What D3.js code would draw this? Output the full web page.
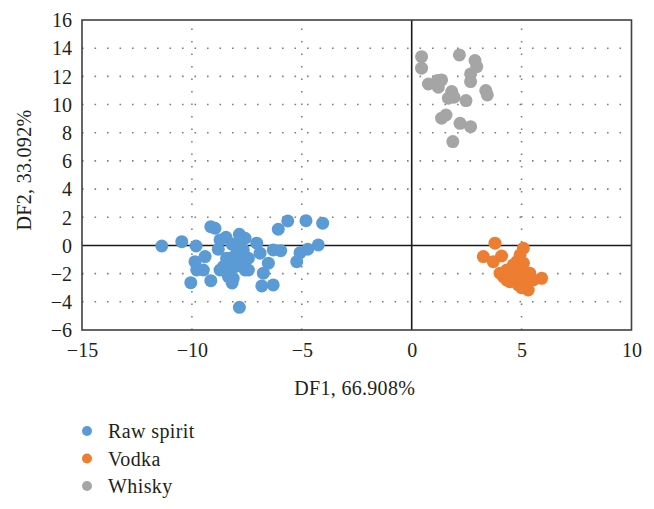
<!DOCTYPE html>
<html>
<head>
<meta charset="utf-8">
<script src="https://cdn.jsdelivr.net/npm/d3@7"></script>
<style>
  html, body { margin: 0; padding: 0; background: #fff; }
  svg { display: block; }
  text { font-family: "Liberation Serif", "Times New Roman", serif; fill: #231f20; }
</style>
</head>
<body>
<svg id="chart" width="654" height="509"></svg>
<script>
// ---- data ----
const seriesNames = ["Raw spirit", "Vodka", "Whisky"];
const seriesColors = ["#5B9BD5", "#ED7D31", "#A5A5A5"];

const rawSpiritX = [-11.37, -10.46, -9.81, -9.14, -8.95, -8.45, -8.80, -7.84, -7.58, -9.86, -9.40, -9.78, -9.48, -10.05, -9.14, -8.49, -8.34, -8.12, -8.27, -7.96, -7.66, -7.43, -7.43, -7.05, -6.90, -6.52, -6.75, -6.82, -6.30, -6.30, -5.96, -6.07, -5.64, -4.81, -4.05, -4.25, -4.73, -5.08, -5.23, -7.84, -8.42, -8.57, -7.81, -8.04, -8.72, -8.34, -7.90, -8.72, -8.18, -7.58, -8.17, -7.72];
const rawSpiritY = [-0.04, 0.27, -0.04, 1.33, 1.22, 0.58, -0.27, 0.79, 0.51, -1.15, -0.79, -1.74, -1.74, -2.64, -2.50, -1.62, -2.21, -2.33, -0.91, -0.55, -0.32, -0.91, -1.74, 0.16, -0.55, -1.26, -1.97, -2.87, -2.80, -0.32, -0.37, 1.15, 1.74, 1.76, 1.58, 0.04, -0.27, -0.51, -1.15, -4.39, -0.91, -1.50, -1.03, -1.50, -1.74, -1.74, 0.04, 0.39, 0.10, -1.74, -2.66, -1.38];

const vodkaX = [3.79, 3.26, 3.71, 4.09, 5.08, 4.93, 4.78, 4.32, 4.17, 4.62, 5.00, 5.23, 4.47, 4.85, 5.30, 5.91, 5.53, 4.62, 4.32, 5.08, 5.15, 4.85, 5.37, 4.02, 5.00];
const vodkaY = [0.16, -0.79, -1.15, -0.75, -0.20, -0.67, -1.15, -1.74, -2.21, -1.97, -1.74, -2.21, -2.57, -2.80, -3.16, -2.33, -2.45, -1.38, -2.45, -1.26, -2.68, -2.21, -1.97, -1.97, -3.00];

const whiskyX = [0.45, 0.45, 2.17, 2.88, 2.96, 2.68, 2.68, 0.76, 1.17, 1.36, 1.21, 1.82, 1.92, 1.67, 2.47, 3.37, 3.44, 1.56, 1.36, 2.20, 2.68, 1.87];
const whiskyY = [13.40, 12.58, 13.52, 13.12, 12.69, 12.17, 11.63, 11.46, 11.70, 11.75, 11.23, 10.92, 10.52, 10.45, 10.28, 10.99, 10.68, 9.26, 9.03, 8.67, 8.43, 7.37];

const xTicks = [-15, -10, -5, 0, 5, 10];
const yTicks = [-6, -4, -2, 0, 2, 4, 6, 8, 10, 12, 14, 16];
const xTitle = "DF1, 66.908%";
const yTitle = "DF2, 33.092%";

// ---- layout ----
const svg = d3.select("#chart");
const L = 82, R = 631.5, T = 20, B = 330;
const x = d3.scaleLinear().domain([-15, 10]).range([L, R]);
const y = d3.scaleLinear().domain([-6, 16]).range([B, T]);
const fs = 20;

const series = [
  { name: seriesNames[0], color: seriesColors[0], xs: rawSpiritX, ys: rawSpiritY },
  { name: seriesNames[1], color: seriesColors[1], xs: vodkaX, ys: vodkaY },
  { name: seriesNames[2], color: seriesColors[2], xs: whiskyX, ys: whiskyY }
];

// gridlines (dotted)
const grid = svg.append("g");
grid.selectAll("line.h").data(yTicks.filter(v => v !== 0 && v !== -6 && v !== 16)).join("line")
  .attr("x1", L).attr("x2", R).attr("y1", d => y(d)).attr("y2", d => y(d))
  .attr("stroke", "#7f7f7f").attr("stroke-width", 1.6)
  .attr("stroke-dasharray", "1.6,10.9").attr("stroke-linecap", "butt");
grid.selectAll("line.v").data(xTicks.filter(v => v !== 0 && v !== -15 && v !== 10)).join("line")
  .attr("y1", B).attr("y2", T).attr("x1", d => x(d)).attr("x2", d => x(d))
  .attr("stroke", "#7f7f7f").attr("stroke-width", 1.6)
  .attr("stroke-dasharray", "1.6,10.9");

// zero axis lines
svg.append("line").attr("x1", L).attr("x2", R).attr("y1", y(0)).attr("y2", y(0))
  .attr("stroke", "#1a1a1a").attr("stroke-width", 1.6);
svg.append("line").attr("x1", x(0)).attr("x2", x(0)).attr("y1", T).attr("y2", B)
  .attr("stroke", "#1a1a1a").attr("stroke-width", 1.6);

// points
series.forEach(s => {
  svg.append("g").selectAll("circle").data(s.xs.map((v, i) => [v, s.ys[i]])).join("circle")
    .attr("cx", d => x(d[0])).attr("cy", d => y(d[1])).attr("r", 6.5)
    .attr("fill", s.color);
});

// border
svg.append("rect").attr("x", L).attr("y", T).attr("width", R - L).attr("height", B - T)
  .attr("fill", "none").attr("stroke", "#404040").attr("stroke-width", 1.6);

// axes (labels only)
const xAxis = d3.axisBottom(x).tickValues(xTicks).tickSize(0).tickPadding(0)
  .tickFormat(d => d < 0 ? "\u2212" + Math.abs(d) : String(d));
const gx = svg.append("g").attr("transform", `translate(0,${B})`).call(xAxis);
gx.select(".domain").remove();
gx.selectAll("text").attr("font-size", fs).attr("dy", null).attr("y", 27)
  .style("font-family", '"Liberation Serif", serif').attr("fill", "#231f20");

const yAxis = d3.axisLeft(y).tickValues(yTicks).tickSize(0).tickPadding(0)
  .tickFormat(d => d < 0 ? "\u2212" + Math.abs(d) : String(d));
const gy = svg.append("g").attr("transform", `translate(${L},0)`).call(yAxis);
gy.select(".domain").remove();
gy.selectAll("text").attr("font-size", fs).attr("x", -10).attr("dy", "0.34em")
  .style("font-family", '"Liberation Serif", serif').attr("fill", "#231f20");

// titles
svg.append("text").attr("x", (L + R) / 2 - 2).attr("y", 395).attr("text-anchor", "middle")
  .attr("font-size", fs).attr("letter-spacing", 0.3).text(xTitle);
svg.append("text").attr("transform", `translate(31,170) rotate(-90)`).attr("text-anchor", "middle")
  .attr("font-size", fs).attr("letter-spacing", 0.3).text(yTitle);

// legend
const lg = svg.append("g");
series.forEach((s, i) => {
  const cy = 431 + i * 27.5;
  lg.append("circle").attr("cx", 87).attr("cy", cy).attr("r", 5).attr("fill", s.color);
  lg.append("text").attr("x", 108).attr("y", cy).attr("dy", "0.35em")
    .attr("font-size", fs).attr("letter-spacing", 0.4).text(s.name);
});
</script>
</body>
</html>
